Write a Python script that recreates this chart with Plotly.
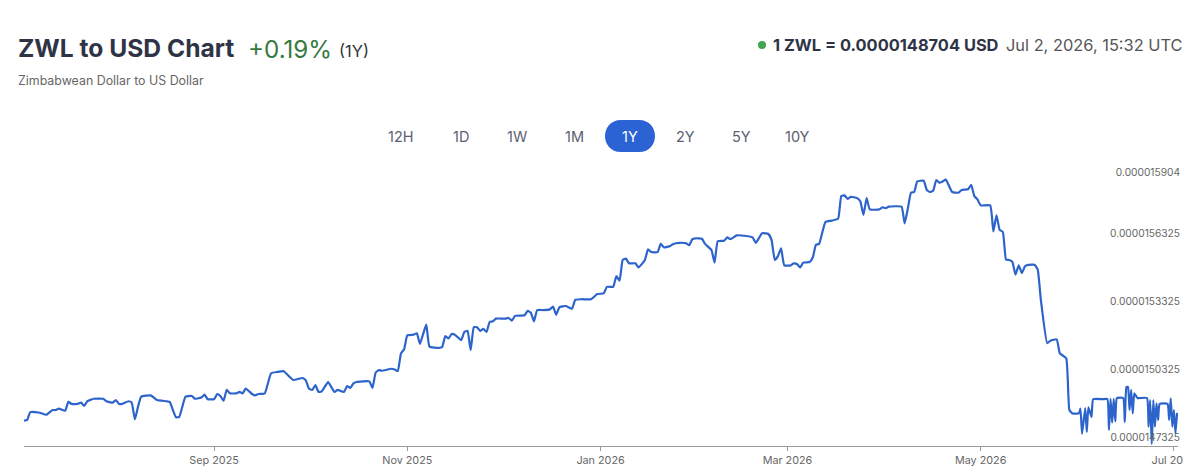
import plotly.graph_objects as go

# ---------------- data ----------------
dates = [
    "2025-07-03", "2025-07-04", "2025-07-05", "2025-07-08", "2025-07-10", "2025-07-12", "2025-07-13",
    "2025-07-14", "2025-07-16", "2025-07-17", "2025-07-18", "2025-07-20", "2025-07-21", "2025-07-22",
    "2025-07-23", "2025-07-25", "2025-07-28", "2025-07-29", "2025-07-31", "2025-08-01", "2025-08-02",
    "2025-08-03", "2025-08-05", "2025-08-06", "2025-08-07", "2025-08-08", "2025-08-09", "2025-08-12",
    "2025-08-14", "2025-08-17", "2025-08-18", "2025-08-19", "2025-08-20", "2025-08-21", "2025-08-23",
    "2025-08-25", "2025-08-26", "2025-08-28", "2025-08-29", "2025-08-30", "2025-09-01", "2025-09-02",
    "2025-09-03", "2025-09-04", "2025-09-05", "2025-09-06", "2025-09-08", "2025-09-09", "2025-09-10",
    "2025-09-11", "2025-09-13", "2025-09-14", "2025-09-15", "2025-09-17", "2025-09-19", "2025-09-21",
    "2025-09-23", "2025-09-25", "2025-09-26", "2025-09-29", "2025-09-30", "2025-10-01", "2025-10-02",
    "2025-10-03", "2025-10-04", "2025-10-05", "2025-10-07", "2025-10-09", "2025-10-10", "2025-10-12",
    "2025-10-13", "2025-10-14", "2025-10-15", "2025-10-16", "2025-10-20", "2025-10-21", "2025-10-22",
    "2025-10-23", "2025-10-24", "2025-10-27", "2025-10-28", "2025-10-29", "2025-10-30", "2025-10-31",
    "2025-11-01", "2025-11-03", "2025-11-04", "2025-11-05", "2025-11-06", "2025-11-07", "2025-11-08",
    "2025-11-11", "2025-11-12", "2025-11-13", "2025-11-14", "2025-11-15", "2025-11-16", "2025-11-18",
    "2025-11-19", "2025-11-20", "2025-11-21", "2025-11-22", "2025-11-23", "2025-11-24", "2025-11-25",
    "2025-11-26", "2025-11-27", "2025-11-28", "2025-11-29", "2025-12-02", "2025-12-03", "2025-12-04",
    "2025-12-05", "2025-12-08", "2025-12-09", "2025-12-10", "2025-12-11", "2025-12-12", "2025-12-14",
    "2025-12-16", "2025-12-17", "2025-12-18", "2025-12-19", "2025-12-21", "2025-12-23", "2025-12-24",
    "2025-12-26", "2025-12-29", "2025-12-31", "2026-01-02", "2026-01-03", "2026-01-05", "2026-01-06",
    "2026-01-07", "2026-01-08", "2026-01-09", "2026-01-10", "2026-01-12", "2026-01-13", "2026-01-15",
    "2026-01-16", "2026-01-17", "2026-01-19", "2026-01-20", "2026-01-21", "2026-01-23", "2026-01-24",
    "2026-01-26", "2026-01-28", "2026-01-29", "2026-01-30", "2026-01-31", "2026-02-02", "2026-02-03",
    "2026-02-05", "2026-02-06", "2026-02-07", "2026-02-09", "2026-02-10", "2026-02-11", "2026-02-13",
    "2026-02-16", "2026-02-18", "2026-02-19", "2026-02-21", "2026-02-23", "2026-02-24", "2026-02-25",
    "2026-02-26", "2026-02-27", "2026-02-28", "2026-03-02", "2026-03-03", "2026-03-04", "2026-03-05",
    "2026-03-06", "2026-03-08", "2026-03-09", "2026-03-10", "2026-03-11", "2026-03-13", "2026-03-15",
    "2026-03-17", "2026-03-18", "2026-03-19", "2026-03-20", "2026-03-21", "2026-03-23", "2026-03-24",
    "2026-03-25", "2026-03-26", "2026-03-27", "2026-03-30", "2026-03-31", "2026-04-01", "2026-04-02",
    "2026-04-06", "2026-04-07", "2026-04-08", "2026-04-09", "2026-04-10", "2026-04-11", "2026-04-13",
    "2026-04-14", "2026-04-15", "2026-04-16", "2026-04-17", "2026-04-18", "2026-04-19", "2026-04-20",
    "2026-04-22", "2026-04-24", "2026-04-25", "2026-04-27", "2026-04-28", "2026-04-29", "2026-04-30",
    "2026-05-01", "2026-05-04", "2026-05-05", "2026-05-06", "2026-05-07", "2026-05-08", "2026-05-09",
    "2026-05-10", "2026-05-11", "2026-05-12", "2026-05-13", "2026-05-14", "2026-05-15", "2026-05-16",
    "2026-05-18", "2026-05-19", "2026-05-20", "2026-05-22", "2026-05-23", "2026-05-25", "2026-05-26",
    "2026-05-28", "2026-05-29", "2026-05-30", "2026-06-01", "2026-06-01T12:00", "2026-06-02",
    "2026-06-03", "2026-06-03T12:00", "2026-06-04", "2026-06-05", "2026-06-05T12:00", "2026-06-08T12:00",
    "2026-06-10", "2026-06-10T12:00", "2026-06-11", "2026-06-11T12:00", "2026-06-12", "2026-06-12T12:00",
    "2026-06-13", "2026-06-15", "2026-06-15T12:00", "2026-06-16", "2026-06-16T12:00", "2026-06-17",
    "2026-06-17T12:00", "2026-06-18", "2026-06-18T12:00", "2026-06-19T12:00", "2026-06-22T12:00",
    "2026-06-23", "2026-06-23T12:00", "2026-06-24", "2026-06-24T12:00", "2026-06-25", "2026-06-25T12:00",
    "2026-06-26", "2026-06-26T12:00", "2026-06-29", "2026-06-29T12:00", "2026-06-30", "2026-06-30T12:00",
    "2026-07-01", "2026-07-01T12:00", "2026-07-02",
]

# rate in micro-USD per ZWL (1e-6 USD)
rate_micro_usd = [
    14.836, 14.839, 14.874, 14.871, 14.862, 14.883, 14.883,
    14.889, 14.880, 14.919, 14.910, 14.910, 14.916, 14.901,
    14.922, 14.933, 14.933, 14.922, 14.916, 14.927, 14.910,
    14.910, 14.922, 14.916, 14.842, 14.898, 14.942, 14.948,
    14.927, 14.922, 14.919, 14.883, 14.851, 14.853, 14.942,
    14.945, 14.933, 14.939, 14.951, 14.931, 14.931, 14.954,
    14.945, 14.924, 14.972, 14.957, 14.957, 14.963, 14.957,
    14.978, 14.954, 14.948, 14.954, 14.957, 15.046, 15.052,
    15.055, 15.028, 15.016, 15.025, 15.013, 14.977, 14.972,
    14.993, 14.963, 14.966, 15.007, 14.963, 14.972, 14.963,
    14.989, 14.981, 15.001, 15.007, 15.010, 14.981, 15.048,
    15.060, 15.057, 15.066, 15.063, 15.055, 15.134, 15.152,
    15.214, 15.217, 15.223, 15.176, 15.220, 15.261, 15.164,
    15.158, 15.162, 15.211, 15.200, 15.220, 15.217, 15.193,
    15.229, 15.234, 15.149, 15.250, 15.250, 15.234, 15.243,
    15.229, 15.273, 15.276, 15.288, 15.288, 15.291, 15.279,
    15.300, 15.303, 15.323, 15.314, 15.276, 15.326, 15.326,
    15.329, 15.341, 15.305, 15.338, 15.344, 15.332, 15.371,
    15.374, 15.374, 15.397, 15.400, 15.429, 15.429, 15.477,
    15.456, 15.548, 15.554, 15.533, 15.533, 15.515, 15.548,
    15.595, 15.583, 15.583, 15.619, 15.604, 15.610, 15.619,
    15.624, 15.622, 15.613, 15.640, 15.644, 15.642, 15.619,
    15.592, 15.536, 15.631, 15.633, 15.648, 15.640, 15.657,
    15.654, 15.648, 15.624, 15.666, 15.663, 15.636, 15.548,
    15.565, 15.599, 15.524, 15.524, 15.533, 15.530, 15.515,
    15.536, 15.539, 15.559, 15.615, 15.619, 15.716, 15.722,
    15.731, 15.831, 15.834, 15.819, 15.828, 15.822, 15.808,
    15.748, 15.822, 15.772, 15.772, 15.781, 15.778, 15.784,
    15.784, 15.710, 15.775, 15.846, 15.849, 15.896, 15.899,
    15.858, 15.849, 15.855, 15.902, 15.890, 15.896, 15.904,
    15.849, 15.846, 15.858, 15.861, 15.881, 15.831, 15.816,
    15.790, 15.790, 15.674, 15.746, 15.681, 15.672, 15.549,
    15.548, 15.539, 15.483, 15.524, 15.490, 15.520, 15.526,
    15.527, 15.506, 15.371, 15.179, 15.190, 15.196, 15.134,
    15.112, 14.883, 14.868, 14.868, 14.889, 14.777,
    14.892, 14.786, 14.895, 14.853, 14.931, 14.931,
    14.932, 14.795, 14.932, 14.827, 14.932, 14.833,
    14.936, 14.936, 14.830, 14.984, 14.986, 14.883,
    14.972, 14.868, 14.957, 14.936, 14.936,
    14.809, 14.927, 14.7325, 14.927, 14.809, 14.913,
    14.839, 14.910, 14.910, 14.839, 14.935, 14.809,
    14.883, 14.780, 14.8704,
]

y_tick_values = [14.7325, 15.0325, 15.3325, 15.6325, 15.904]
y_tick_labels = ["0.0000147325", "0.0000150325", "0.0000153325", "0.0000156325", "0.000015904"]

range_buttons = ["12H", "1D", "1W", "1M", "1Y", "2Y", "5Y", "10Y"]
active_button = "1Y"

# ---------------- layout geometry (pixels) ----------------
W, H = 1200, 475
L, R, T, B = 24, 1178, 160, 446
PW, PH = R - L, B - T


def px(x):
    return (x - L) / PW


def py(y):
    return (B - y) / PH


FONT = "Inter"
LINE_BLUE = "#2c64cc"

fig = go.Figure()
fig.add_trace(go.Scatter(
    x=dates, y=rate_micro_usd, mode="lines",
    line=dict(color=LINE_BLUE, width=2.2, shape="spline", smoothing=0.4),
    hoverinfo="skip", showlegend=False,
))

fig.update_layout(
    width=W, height=H,
    margin=dict(l=L, r=W - R, t=T, b=H - B, autoexpand=False),
    paper_bgcolor="white", plot_bgcolor="white",
    font=dict(family=FONT, color="#666"),
    showlegend=False,
    xaxis=dict(
        type="date",
        range=["2025-07-03", "2026-07-02T07:00"],
        tick0="2025-07-01", dtick="M2", tickformat="%b %Y",
        showgrid=False, zeroline=False,
        showline=True, linecolor="#9a9a9a", linewidth=1,
        ticks="outside", ticklen=4, tickcolor="#9a9a9a", tickwidth=1,
        tickfont=dict(family=FONT, size=10.8, color="#666"),
        ticklabeloverflow="allow",
        automargin=False, fixedrange=True,
    ),
    yaxis=dict(
        range=[14.7236, 15.9909],
        side="right",
        tickmode="array", tickvals=y_tick_values, ticktext=y_tick_labels,
        ticklabelposition="inside", ticks="",
        ticklabelshift=-7, ticklabelstandoff=-5,
        ticklabeloverflow="allow",
        showgrid=False, zeroline=False, showline=False,
        tickfont=dict(family=FONT, size=10.2, color="#666"),
        automargin=False, fixedrange=True,
    ),
)

annotations = []


def text(x, y, s, size, color, anchor="left"):
    annotations.append(dict(
        x=px(x), y=py(y), xref="paper", yref="paper", text=s, showarrow=False,
        xanchor=anchor, yanchor="middle", font=dict(family=FONT, size=size, color=color),
    ))


# header
text(16, 48, "<b>ZWL to USD Chart</b>", 24.6, "#2e3446")
text(246, 49, "+0.19%", 24.2, "#377a3f")
text(337, 51, "(1Y)", 16.5, "#333")
text(16, 81, "Zimbabwean Dollar to US Dollar", 12.4, "#666")
text(771, 45, "<b>1 ZWL = 0.0000148704 USD</b>", 16.4, "#2e3446")
text(1185, 45, "Jul 2, 2026, 15:32 UTC", 16.4, "#555", anchor="right")

# range buttons
button_centers = [401, 461, 517, 574, 630, 685, 741, 797]
for label, cx in zip(range_buttons, button_centers):
    active = label == active_button
    text(cx, 136, label, 14.5, "white" if active else "#5c6070", anchor="center")

fig.update_layout(annotations=annotations)

shapes = [
    # green status dot
    dict(type="circle", xref="paper", yref="paper", xsizemode="pixel", ysizemode="pixel",
         xanchor=px(762), yanchor=py(45), x0=-4, x1=4, y0=-4, y1=4,
         fillcolor="#3fa54f", line=dict(width=0), layer="above"),
    # active range pill
    dict(type="path", xref="paper", yref="paper", xsizemode="pixel", ysizemode="pixel",
         xanchor=px(630), yanchor=py(136),
         path="M -9,-16 L 9,-16 C 30.33,-16 30.33,16 9,16 L -9,16 C -30.33,16 -30.33,-16 -9,-16 Z",
         fillcolor="#2b63d4", line=dict(width=0), layer="below"),
    # page edge crop (the reference screenshot cuts the last x label)
    dict(type="rect", xref="paper", yref="paper",
         x0=px(1183), x1=px(1200), y0=py(475), y1=py(449),
         fillcolor="white", line=dict(width=0), layer="above"),
]
fig.update_layout(shapes=shapes)

fig.write_html("out.html")
